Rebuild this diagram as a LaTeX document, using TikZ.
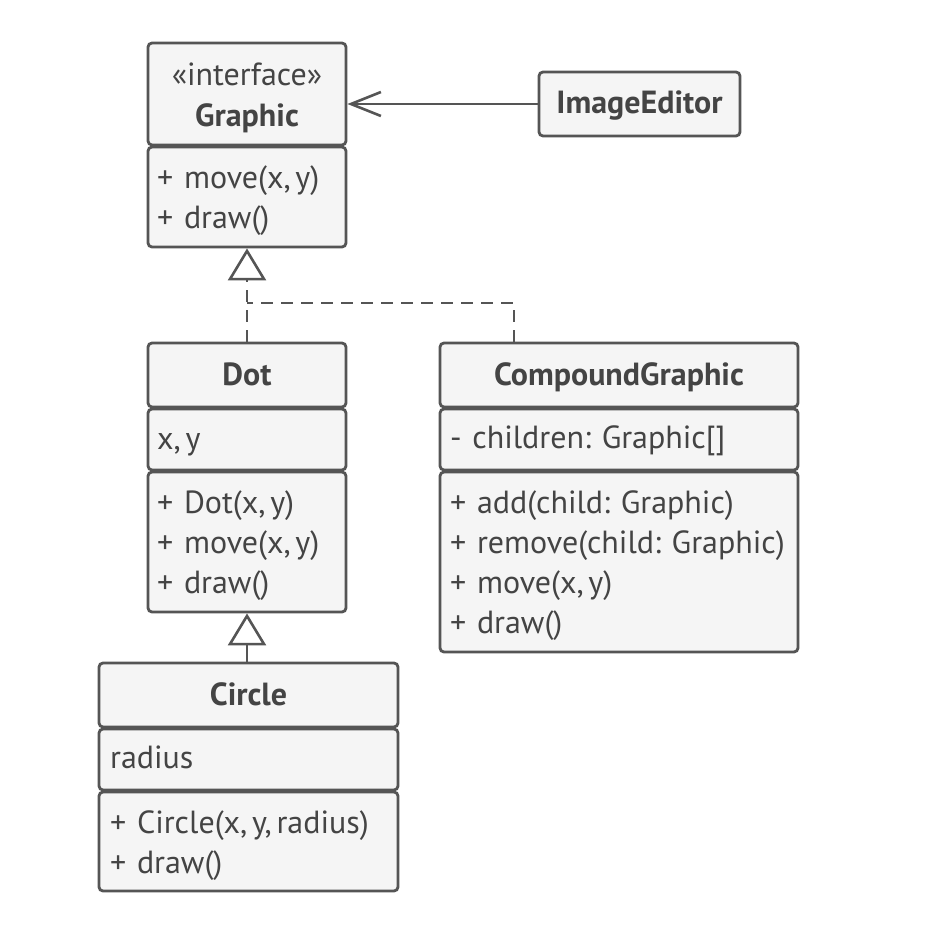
\documentclass[tikz,border=0pt]{standalone}
\usepackage{fontspec}
\setmainfont{PT Sans}
\usetikzlibrary{arrows.meta}
\definecolor{linec}{HTML}{555555}
\definecolor{boxfill}{HTML}{F5F5F5}
\definecolor{textc}{HTML}{444444}
% comma between arguments, set a little tighter
\newcommand\argsep{,\kern-6pt\ }
\tikzset{
  part/.style={draw=linec, fill=boxfill, rounded corners=4pt, line width=2.8pt,
    inner sep=0pt},
  txt/.style={anchor=base west, inner sep=0pt, text=textc, align=left,
    text width=340pt, font=\frenchspacing\fontsize{32}{40}\selectfont},
  ttl/.style={anchor=base, inner sep=0pt, text=textc,
    font=\frenchspacing\bfseries\fontsize{32}{40}\selectfont},
  conn/.style={draw=linec, line width=2.6pt},
  realize/.style={conn, dash pattern=on 12pt off 8pt},
  hollow/.style={-{Triangle[open, length=32pt, width=38pt, line width=2.6pt, fill=white]}},
  assoc/.style={conn, -{Straight Barb[length=30pt, width=24pt, line width=2.6pt]}}
}
\begin{document}
\begin{tikzpicture}[x=1pt, y=-1pt]
\useasboundingbox (0,0) rectangle (936,948);
\fill[white] (0,0) rectangle (936,948);

% Graphic interface
\node[part, minimum width=198pt, minimum height=102pt] (gh) at (247,94) {};
\node[part, minimum width=198pt, minimum height=100pt] (gm) at (247,197) {};
\node[ttl, font=\fontsize{32}{40}\selectfont] (ghs) at (247,85) {«interface»};
\node[ttl] (ght) at (247,126) {Graphic};
\node[txt] (gmt) at (157,188) {+ move(x\argsep y)\\+ draw()};

% ImageEditor client
\node[part, minimum width=201pt, minimum height=64pt] (ie) at (639.5,104) {};
\node[ttl] (iet) at (639.5,113) {ImageEditor};

% Dot
\node[part, minimum width=198pt, minimum height=64pt] (dh) at (247,375) {};
\node[part, minimum width=198pt, minimum height=61pt] (df) at (247,439.5) {};
\node[part, minimum width=198pt, minimum height=140pt] (dm) at (247,542) {};
\node[ttl] (dht) at (247,385) {Dot};
\node[txt] (dft) at (157,449) {x\argsep y};
\node[txt] (dmt) at (157,513) {+ Dot(x\argsep y)\\+ move(x\argsep y)\\+ draw()};

% CompoundGraphic
\node[part, minimum width=358pt, minimum height=64pt] (ch) at (619,375) {};
\node[part, minimum width=358pt, minimum height=61pt] (cf) at (619,439.5) {};
\node[part, minimum width=358pt, minimum height=180pt] (cm) at (619,562) {};
\node[ttl] (cht) at (619,385) {CompoundGraphic};
\node[txt] (cft) at (450,448) {- children: Graphic[]};
\node[txt] (cmt) at (450,513)
  {+ add(child: Graphic)\\+ remove(child: Graphic)\\+ move(x\argsep y)\\+ draw()};

% Circle
\node[part, minimum width=299pt, minimum height=64pt] (crh) at (248.5,695) {};
\node[part, minimum width=299pt, minimum height=61pt] (crf) at (248.5,759.5) {};
\node[part, minimum width=299pt, minimum height=99pt] (crm) at (248.5,841.5) {};
\node[ttl] (crht) at (248.5,705) {Circle};
\node[txt] (crft) at (110,768) {radius};
\node[txt] (crmt) at (110,833) {+ Circle(x\argsep y\argsep radius)\\+ draw()};

% connectors
\coordinate (j) at (247,303);
\coordinate (bend) at (514,303);
\draw[assoc] (ie.west) -- (gm.east |- ie.west);
\draw[realize] (ch.north -| bend) -- (bend) -- (j);
\draw[realize, hollow] (dh.north) -- (gm.south);
\draw[conn, hollow] (crh.north -| dm.south) -- (dm.south);
\end{tikzpicture}
\end{document}
